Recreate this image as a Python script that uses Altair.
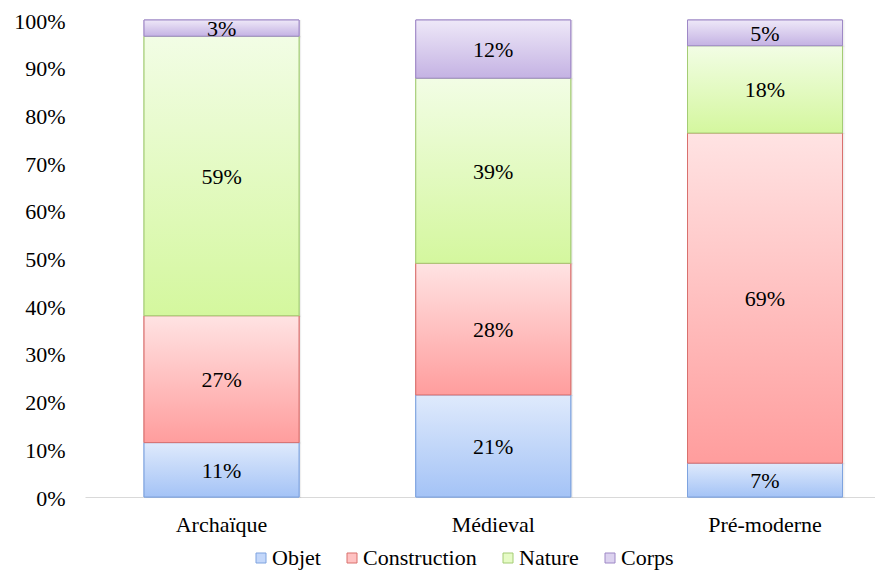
import altair as alt
import pandas as pd

periods = ["Archaïque", "Médieval", "Pré-moderne"]
categories = ["Objet", "Construction", "Nature", "Corps"]
objet = [11.4, 21.4, 7.1]
construction = [26.6, 27.6, 69.2]
nature = [58.6, 38.8, 18.3]
corps = [3.4, 12.2, 5.4]

top_colors = ["#dfeafc", "#ffe3e3", "#f2fde5", "#eee8f8"]
bottom_colors = ["#a4c3f6", "#ff9d9d", "#d4f79e", "#c4b2e3"]
stroke_colors = ["#7ea3df", "#d9706d", "#a4cc74", "#9e88c6"]
legend_fills = ["#c3d7fa", "#ffc2c2", "#e6fbc6", "#dcd2ef"]

series = [objet, construction, nature, corps]
rows = []
for ci, (cat, vals) in enumerate(zip(categories, series)):
    for p, v in zip(periods, vals):
        rows.append({"period": p, "category": cat, "value": v, "order": ci})
df = pd.DataFrame(rows)

FONT = "Liberation Serif, Times New Roman, serif"

x_enc = alt.X(
    "period:N",
    sort=periods,
    scale=alt.Scale(paddingInner=0.4296, paddingOuter=0.1684, align=0.645),
    axis=alt.Axis(
        title=None, labelAngle=0, ticks=False, domain=True, domainColor="#d9d9d9",
        domainWidth=1, labelPadding=17, labelFont=FONT, labelFontSize=22,
        labelColor="#000000", grid=False,
    ),
)
y_scale = alt.Scale(domain=[0, 100], nice=False)

base = alt.Chart(df).transform_stack(
    stack="value", as_=["y0", "y1"], groupby=["period"],
    sort=[alt.SortField("order", order="ascending")],
)

shadow_layer = base.mark_bar(
    fill="#000000", opacity=0.06, xOffset=2, yOffset=1, stroke="#000000",
    strokeWidth=2, strokeOpacity=0.05,
).encode(x=x_enc, y=alt.Y("y0:Q", scale=y_scale), y2="y1:Q")

legend_layer = base.mark_bar().encode(
    x=x_enc,
    y=alt.Y(
        "y0:Q", scale=y_scale,
        axis=alt.Axis(
            title=None, values=list(range(0, 101, 10)), labelExpr="datum.value + '%'",
            domain=False, ticks=False, grid=False, labelPadding=20, labelFont=FONT,
            labelFontSize=22, labelColor="#000000", labelOffset=1,
        ),
    ),
    y2="y1:Q",
    fill=alt.Fill(
        "category:N", scale=alt.Scale(domain=categories, range=legend_fills),
        legend=alt.Legend(title=None),
    ),
    stroke=alt.Stroke(
        "category:N", scale=alt.Scale(domain=categories, range=stroke_colors),
        legend=alt.Legend(title=None),
    ),
)

layers = [shadow_layer, legend_layer]
for cat, t, b, s in zip(categories, top_colors, bottom_colors, stroke_colors):
    grad = alt.Gradient(
        gradient="linear",
        stops=[alt.GradientStop(color=t, offset=0), alt.GradientStop(color=b, offset=1)],
        x1=0, x2=0, y1=0, y2=1,
    )
    layers.append(
        base.transform_filter(alt.datum.category == cat)
        .mark_bar(fill=grad, stroke=s, strokeWidth=1)
        .encode(x=x_enc, y=alt.Y("y0:Q", scale=y_scale), y2="y1:Q")
    )

text_layer = base.transform_calculate(
    mid="(datum.y0 + datum.y1) / 2",
    label="round(datum.value) + '%'",
).mark_text(font=FONT, fontSize=22, color="#000000", baseline="middle", dy=1).encode(
    x=x_enc, y=alt.Y("mid:Q", scale=y_scale), text="label:N"
)
layers.append(text_layer)

chart = alt.layer(*layers).properties(
    width=790, height=477,
    autosize=alt.AutoSizeParams(type="none"),
    padding={"left": 77, "top": 12, "right": 0, "bottom": 74},
).configure(font=FONT).configure_view(stroke=None).configure_legend(
    orient="none", legendX=165, legendY=527, direction="horizontal",
    labelFont=FONT, labelFontSize=22, labelColor="#000000", symbolType="square",
    symbolSize=100, symbolStrokeWidth=1, labelOffset=0, columnPadding=20,
    padding=0, symbolOpacity=1,
)

chart.save("out.html", embed_options={"renderer": "svg", "actions": False})
